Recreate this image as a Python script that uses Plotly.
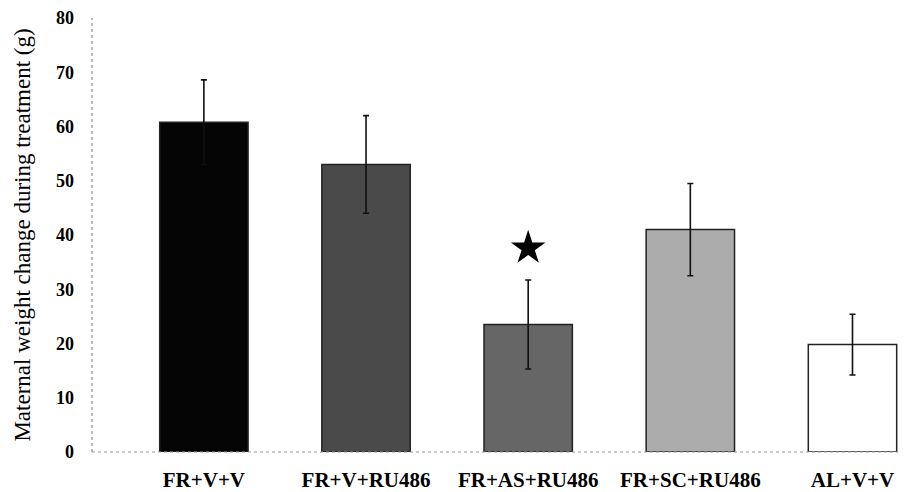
import plotly.graph_objects as go

categories = ["FR+V+V", "FR+V+RU486", "FR+AS+RU486", "FR+SC+RU486", "AL+V+V"]
means = [60.8, 53.0, 23.5, 41.0, 19.8]
errors = [7.8, 9.0, 8.2, 8.5, 5.6]
bar_colors = ["#050505", "#4a4a4a", "#666666", "#acacac", "#ffffff"]
star_category = ["FR+AS+RU486"]
star_value = [37.6]
y_ticks = [0, 10, 20, 30, 40, 50, 60, 70, 80]

font_family = "Liberation Serif"

fig = go.Figure()
fig.add_trace(go.Bar(
    x=categories, y=means,
    marker=dict(color=bar_colors, line=dict(color="#222222", width=1.5)),
    width=0.545,
    error_y=dict(type="data", array=errors, visible=True, color="#111111",
                 thickness=1.6, width=3),
    showlegend=False,
))
fig.add_trace(go.Scatter(
    x=star_category, y=star_value, mode="markers",
    marker=dict(symbol="star", size=26, color="black"),
    showlegend=False,
))

# page body has an 8px margin, so the figure is offset by 8px
fig.update_layout(
    width=898, height=484,
    margin=dict(l=84, r=0, t=10, b=40),
    plot_bgcolor="white", paper_bgcolor="white",
    bargap=0.45,
    font=dict(family=font_family, color="black"),
)
fig.update_xaxes(
    range=[-0.69, 4.33], automargin=False,
    showline=False, showgrid=False, zeroline=False,
    ticks="", ticklabelstandoff=13, ticklabeloverflow="allow",
    tickfont=dict(family=font_family, size=21, color="black", weight="bold"),
)
fig.update_yaxes(
    range=[0, 80], tickvals=y_ticks, automargin=False,
    showline=False, showgrid=False, zeroline=False,
    ticks="", ticklabelstandoff=17, ticklabeloverflow="allow",
    tickfont=dict(family=font_family, size=18, color="black", weight="bold"),
    title=dict(text="Maternal weight change during treatment (g)",
               font=dict(family=font_family, size=23, color="black"),
               standoff=18),
)
# dotted axis lines like the scanned figure
fig.add_shape(type="line", xref="paper", yref="paper", x0=0, x1=0, y0=0, y1=1,
              line=dict(color="#777777", width=1, dash="dot"))
fig.add_shape(type="line", xref="paper", yref="paper", x0=0, x1=1, y0=0, y1=0,
              line=dict(color="#999999", width=1, dash="dot"))

fig.write_html("out.html")
